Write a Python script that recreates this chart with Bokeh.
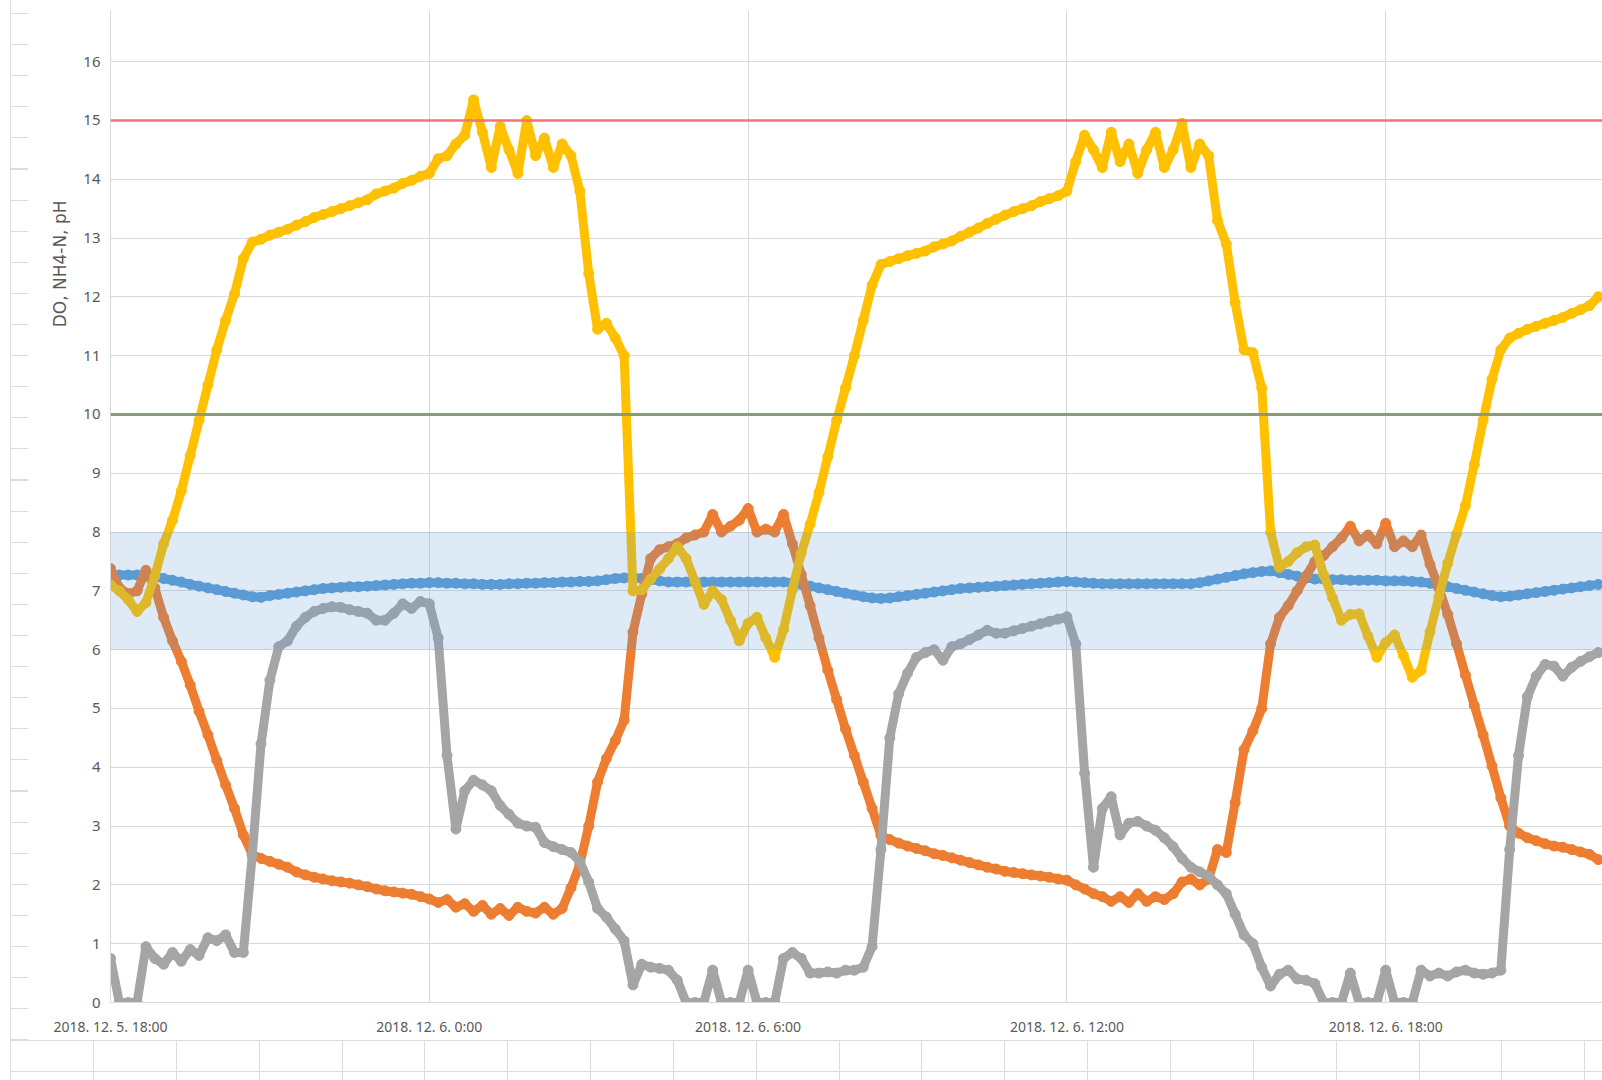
from bokeh.plotting import figure
from bokeh.models import FixedTicker, Span, BoxAnnotation, Range1d, Title
from bokeh.embed import file_html
from bokeh.resources import INLINE

# ---------------- data ----------------
# sampling: every 10 minutes starting 2018-12-05 18:00 (x in hours since start)
step_minutes = 10

ph = [
    7.27, 7.27, 7.27, 7.27, 7.26, 7.24,
    7.21, 7.18, 7.15, 7.11, 7.08, 7.05,
    7.02, 6.99, 6.96, 6.93, 6.90, 6.89,
    6.92, 6.94, 6.96, 6.98, 7.00, 7.02,
    7.04, 7.05, 7.06, 7.07, 7.07, 7.08,
    7.09, 7.10, 7.11, 7.12, 7.13, 7.13,
    7.14, 7.14, 7.13, 7.13, 7.12, 7.12,
    7.11, 7.11, 7.11, 7.12, 7.12, 7.13,
    7.13, 7.14, 7.14, 7.15, 7.15, 7.16,
    7.16, 7.17, 7.19, 7.21, 7.22, 7.23,
    7.21, 7.19, 7.17, 7.15, 7.15, 7.15,
    7.15, 7.15, 7.15, 7.15, 7.15, 7.15,
    7.15, 7.15, 7.15, 7.15, 7.15, 7.14,
    7.11, 7.08, 7.05, 7.02, 6.99, 6.96,
    6.93, 6.90, 6.88, 6.87, 6.88, 6.90,
    6.92, 6.94, 6.96, 6.98, 7.00, 7.02,
    7.04, 7.05, 7.06, 7.07, 7.08, 7.09,
    7.10, 7.11, 7.12, 7.13, 7.14, 7.15,
    7.16, 7.15, 7.14, 7.13, 7.12, 7.12,
    7.12, 7.12, 7.12, 7.12, 7.12, 7.12,
    7.12, 7.12, 7.12, 7.14, 7.17, 7.20,
    7.23, 7.26, 7.29, 7.31, 7.33, 7.34,
    7.31, 7.28, 7.25, 7.22, 7.20, 7.20,
    7.19, 7.19, 7.18, 7.18, 7.18, 7.18,
    7.17, 7.17, 7.17, 7.16, 7.15, 7.13,
    7.10, 7.07, 7.04, 7.01, 6.98, 6.95,
    6.92, 6.90, 6.91, 6.93, 6.95, 6.97,
    6.99, 7.01, 7.03, 7.05, 7.07, 7.09,
    7.11,
]

nh4_n = [
    7.38, 7.05, 6.95, 7.00, 7.35, 7.05,
    6.55, 6.15, 5.80, 5.40, 4.95, 4.55,
    4.12, 3.70, 3.30, 2.85, 2.52, 2.45,
    2.40, 2.35, 2.30, 2.22, 2.17, 2.13,
    2.10, 2.07, 2.05, 2.03, 2.00, 1.97,
    1.93, 1.90, 1.88, 1.86, 1.84, 1.80,
    1.76, 1.70, 1.75, 1.62, 1.68, 1.55,
    1.65, 1.50, 1.60, 1.48, 1.62, 1.55,
    1.52, 1.62, 1.50, 1.60, 1.95, 2.35,
    3.00, 3.75, 4.15, 4.45, 4.80, 6.30,
    6.95, 7.55, 7.70, 7.75, 7.80, 7.90,
    7.95, 8.00, 8.30, 8.00, 8.10, 8.20,
    8.40, 8.00, 8.05, 8.00, 8.30, 7.80,
    7.28, 6.75, 6.20, 5.65, 5.15, 4.65,
    4.20, 3.75, 3.30, 2.84, 2.77, 2.71,
    2.66, 2.62, 2.58, 2.53, 2.50, 2.46,
    2.42, 2.38, 2.34, 2.30, 2.27, 2.23,
    2.21, 2.19, 2.17, 2.15, 2.13, 2.10,
    2.08, 2.00, 1.93, 1.85, 1.80, 1.72,
    1.80, 1.70, 1.85, 1.72, 1.80, 1.75,
    1.85, 2.05, 2.10, 2.00, 2.10, 2.60,
    2.55, 3.40, 4.30, 4.62, 5.00, 6.10,
    6.55, 6.75, 7.00, 7.25, 7.50, 7.60,
    7.75, 7.90, 8.10, 7.85, 7.95, 7.80,
    8.15, 7.75, 7.85, 7.75, 7.95, 7.45,
    7.05, 6.60, 6.10, 5.57, 5.05, 4.55,
    4.02, 3.48, 3.00, 2.88, 2.80, 2.75,
    2.70, 2.66, 2.64, 2.60, 2.56, 2.52,
    2.43,
]

do_mgl = [
    0.75, 0.00, 0.00, 0.00, 0.95, 0.75,
    0.65, 0.85, 0.70, 0.90, 0.80, 1.10,
    1.05, 1.15, 0.85, 0.85, 2.50, 4.40,
    5.48, 6.05, 6.15, 6.40, 6.55, 6.65,
    6.70, 6.73, 6.72, 6.68, 6.65, 6.62,
    6.50, 6.50, 6.62, 6.78, 6.70, 6.82,
    6.78, 6.20, 4.20, 2.95, 3.60, 3.78,
    3.70, 3.60, 3.35, 3.20, 3.05, 3.00,
    2.98, 2.72, 2.65, 2.60, 2.55, 2.40,
    2.05, 1.60, 1.45, 1.25, 1.05, 0.30,
    0.65, 0.60, 0.58, 0.55, 0.38, 0.00,
    0.00, 0.00, 0.55, 0.00, 0.00, 0.00,
    0.55, 0.00, 0.00, 0.00, 0.75, 0.85,
    0.75, 0.50, 0.50, 0.52, 0.50, 0.55,
    0.55, 0.60, 0.95, 2.60, 4.50, 5.25,
    5.60, 5.87, 5.95, 6.00, 5.82, 6.05,
    6.10, 6.17, 6.25, 6.33, 6.28, 6.28,
    6.32, 6.36, 6.40, 6.44, 6.48, 6.52,
    6.56, 6.10, 3.90, 2.30, 3.30, 3.50,
    2.85, 3.05, 3.08, 3.00, 2.93, 2.80,
    2.65, 2.45, 2.30, 2.22, 2.15, 2.00,
    1.85, 1.50, 1.15, 1.00, 0.60, 0.28,
    0.48, 0.55, 0.40, 0.38, 0.32, 0.00,
    0.00, 0.00, 0.50, 0.00, 0.00, 0.00,
    0.55, 0.00, 0.00, 0.00, 0.55, 0.45,
    0.50, 0.45, 0.52, 0.55, 0.50, 0.48,
    0.50, 0.55, 2.60, 4.20, 5.20, 5.55,
    5.75, 5.72, 5.55, 5.70, 5.80, 5.88,
    5.95,
]

nox_n = [
    7.10, 7.00, 6.85, 6.65, 6.80, 7.25,
    7.80, 8.20, 8.70, 9.30, 9.90, 10.50,
    11.10, 11.60, 12.05, 12.65, 12.93, 12.98,
    13.05, 13.10, 13.15, 13.22, 13.28, 13.35,
    13.40, 13.45, 13.50, 13.55, 13.60, 13.65,
    13.75, 13.80, 13.85, 13.93, 13.98, 14.05,
    14.10, 14.35, 14.40, 14.60, 14.75, 15.35,
    14.80, 14.20, 14.90, 14.50, 14.10, 15.00,
    14.40, 14.70, 14.20, 14.60, 14.40, 13.80,
    12.40, 11.45, 11.55, 11.30, 11.00, 7.00,
    7.02, 7.20, 7.37, 7.55, 7.75, 7.55,
    7.16, 6.77, 7.00, 6.85, 6.50, 6.15,
    6.45, 6.55, 6.20, 5.87, 6.34, 7.02,
    7.64, 8.13, 8.67, 9.28, 9.90, 10.45,
    11.00, 11.60, 12.20, 12.55, 12.60, 12.65,
    12.70, 12.74, 12.78, 12.85, 12.90, 12.95,
    13.03, 13.10, 13.17, 13.25, 13.32, 13.39,
    13.45, 13.50, 13.55, 13.62, 13.67, 13.72,
    13.80, 14.30, 14.75, 14.50, 14.20, 14.80,
    14.30, 14.60, 14.10, 14.50, 14.80, 14.20,
    14.50, 14.95, 14.20, 14.60, 14.40, 13.30,
    12.90, 11.90, 11.10, 11.05, 10.45, 8.00,
    7.40, 7.50, 7.65, 7.75, 7.78, 7.27,
    6.88, 6.50, 6.60, 6.61, 6.23, 5.87,
    6.12, 6.25, 5.90, 5.53, 5.65, 6.30,
    6.90, 7.47, 7.97, 8.45, 9.15, 9.90,
    10.60, 11.10, 11.30, 11.38, 11.45, 11.50,
    11.55, 11.60, 11.65, 11.72, 11.78, 11.85,
    12.00,
]

tick_hours = [0, 6, 12, 18, 24]
tick_labels = ["2018. 12. 5. 18:00", "2018. 12. 6. 0:00", "2018. 12. 6. 6:00",
               "2018. 12. 6. 12:00", "2018. 12. 6. 18:00"]
y_ticks = list(range(0, 17))
upper_limit = 15
lower_limit = 10
ph_band_low, ph_band_high = 6, 8
y_title = "DO, NH4-N, pH"


def hours_for(series):
    return [i * step_minutes / 60.0 for i in range(len(series))]


# ---------------- figure ----------------
p = figure(width=1602, height=1080,
           x_range=Range1d(0, 28.08), y_range=Range1d(0, 16.87),
           output_backend="svg", toolbar_location=None,
           min_border_left=110, min_border_right=0,
           min_border_top=10, min_border_bottom=78)
p.background_fill_color = "white"
p.border_fill_color = "white"
p.border_fill_alpha = 0.0
p.outline_line_color = None

# spreadsheet cells visible around the chart object (pure decoration)
sheet = "#DCDCDC"
p.styles = {
    "background": ", ".join([
        "linear-gradient(#fff, #fff) 28px 0px / 1574px 1040px no-repeat",
        f"repeating-linear-gradient(to bottom, {sheet} 0px 1px, transparent 1px 31.1px) 10px 13px / 18px 1027px no-repeat",
        f"linear-gradient({sheet}, {sheet}) 10px 0px / 1px 1080px no-repeat",
        f"linear-gradient({sheet}, {sheet}) 10px 1040px / 1592px 1px no-repeat",
        f"linear-gradient({sheet}, {sheet}) 10px 1071px / 1592px 1px no-repeat",
        f"repeating-linear-gradient(to right, {sheet} 0px 1px, transparent 1px 82.85px) 93px 1040px / 1509px 40px no-repeat",
        "#ffffff",
    ])
}

grid_col = "#D9D9D9"
p.xaxis.ticker = FixedTicker(ticks=tick_hours)
p.xaxis.major_label_overrides = {h: lab for h, lab in zip(tick_hours, tick_labels)}
p.yaxis.ticker = FixedTicker(ticks=y_ticks)
p.xgrid.ticker = FixedTicker(ticks=tick_hours)
p.ygrid.ticker = FixedTicker(ticks=y_ticks)
p.xgrid.grid_line_color = grid_col
p.ygrid.grid_line_color = grid_col

for ax in (p.xaxis, p.yaxis):
    ax.axis_line_color = grid_col
    ax.major_tick_line_color = None
    ax.minor_tick_line_color = None
    ax.major_tick_out = 0
    ax.major_tick_in = 0
    ax.minor_tick_out = 0
    ax.major_label_text_font = "Noto Sans"
    ax.major_label_text_color = "#595959"
p.xaxis.major_label_text_font_size = "14px"
p.yaxis.major_label_text_font_size = "15px"
p.xaxis.major_label_standoff = 14
p.yaxis.major_label_standoff = 10

series = [
    (ph, "#5B9BD5"),
    (nh4_n, "#ED7D31"),
    (do_mgl, "#A5A5A5"),
    (nox_n, "#FFC000"),
]
for vals, col in series:
    xs = hours_for(vals)
    p.line(xs, vals, line_color=col, line_width=9, line_join="round", line_cap="round")
    p.scatter(xs, vals, size=10, fill_color=col, line_color=col, marker="circle")

band = BoxAnnotation(bottom=ph_band_low, top=ph_band_high, fill_color="#5B9BD5",
                     fill_alpha=0.2, line_alpha=0)
p.add_layout(band)

p.add_layout(Span(location=upper_limit, dimension="width", line_color="#F2737B",
                  line_width=2.5))
p.add_layout(Span(location=lower_limit, dimension="width", line_color="#8A9B77",
                  line_width=3))

p.add_layout(Title(text=y_title, align="right", offset=190, standoff=20,
                   vertical_align="middle",
                   text_font="DejaVu Sans", text_font_size="17px",
                   text_font_style="normal", text_color="#595959"), "left")

open("out.html", "w").write(file_html(p, INLINE))
